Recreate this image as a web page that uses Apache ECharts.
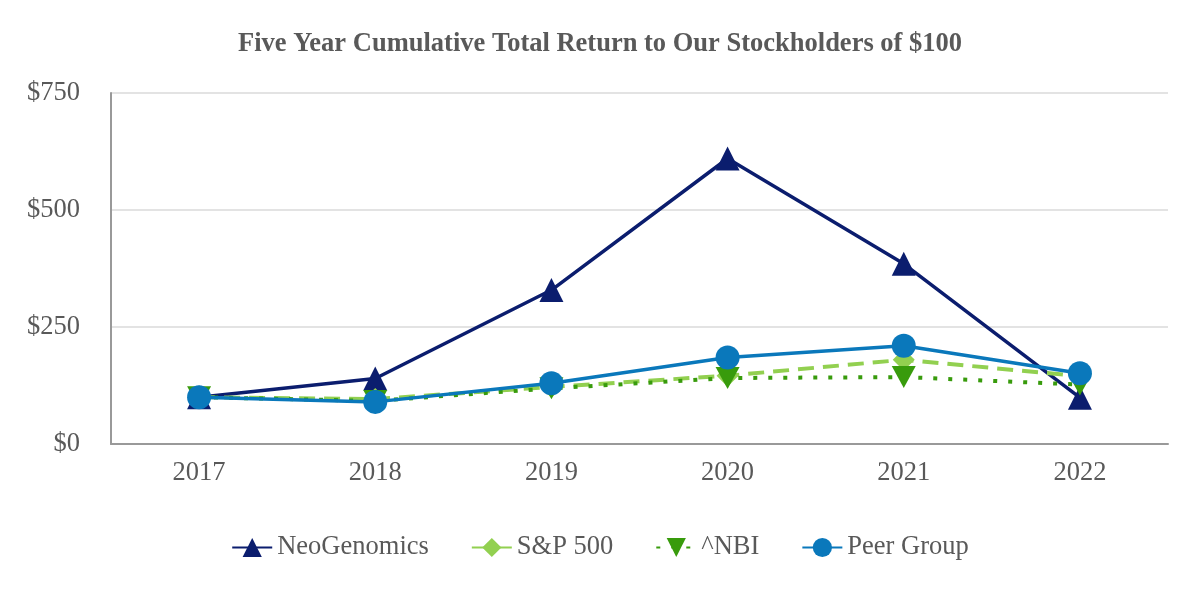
<!DOCTYPE html>
<html>
<head>
<meta charset="utf-8">
<script src="https://cdn.jsdelivr.net/npm/echarts@6/dist/echarts.min.js"></script>
<style>html,body{margin:0;padding:0;background:#fff;}#c{width:1200px;height:600px;}</style>
</head>
<body>
<div id="c"></div>
<script>
const years = ['2017', '2018', '2019', '2020', '2021', '2022'];
const neoGenomics = [100, 140, 329, 610, 385, 99];
const sp500 = [100, 96, 122, 146, 180, 145];
const nbi = [100, 92, 119, 141, 143, 127];
const peerGroup = [100, 90, 130, 185, 210, 151];
const yTicks = { min: 0, max: 750, interval: 250 };

const font = "'Liberation Serif', 'Times New Roman', serif";
const gray = '#595959';

const chart = echarts.init(document.getElementById('c'));
chart.setOption({
  backgroundColor: '#fff',
  animation: false,
  title: {
    text: 'Five Year Cumulative Total Return to Our Stockholders of $100',
    left: 'center', top: 26,
    textStyle: { fontFamily: font, fontSize: 26.5, fontWeight: 'bold', color: gray }
  },
  grid: { left: 111, right: 32, top: 93, bottom: 156 },
  legend: {
    bottom: 34, left: 'center', itemGap: 42, itemWidth: 40, itemHeight: 24,
    textStyle: { fontFamily: font, fontSize: 26.5, color: gray },
    data: ['NeoGenomics', 'S&P 500', '^NBI', 'Peer Group']
  },
  xAxis: {
    type: 'category', data: years, boundaryGap: true,
    axisLine: { lineStyle: { color: '#999', width: 2 } },
    axisTick: { alignWithLabel: true, length: 10, lineStyle: { color: '#999', width: 1 } },
    axisLabel: { fontFamily: font, fontSize: 26.5, color: gray, margin: 16 }
  },
  yAxis: {
    type: 'value', min: yTicks.min, max: yTicks.max, interval: yTicks.interval,
    axisLine: { show: true, lineStyle: { color: '#999', width: 2 } },
    axisTick: { show: false },
    splitLine: { lineStyle: { color: '#e3e3e3', width: 2 } },
    axisLabel: { fontFamily: font, fontSize: 26.5, color: gray, margin: 31, formatter: v => '$' + v }
  },
  series: [
    { name: 'NeoGenomics', type: 'line', data: neoGenomics, color: '#0b1d6e',
      symbol: 'triangle', symbolSize: 24, lineStyle: { width: 3.5 } },
    { name: 'S&P 500', type: 'line', data: sp500, color: '#92d050',
      symbol: 'diamond', symbolSize: 22, lineStyle: { width: 4, type: [16, 9] } },
    { name: '^NBI', type: 'line', data: nbi, color: '#389b0c',
      symbol: 'path://M0,0 L10,0 L5,9 Z', symbolSize: [24, 22], lineStyle: { width: 4, type: [4, 11] } },
    { name: 'Peer Group', type: 'line', data: peerGroup, color: '#0a78bb',
      symbol: 'circle', symbolSize: 24, lineStyle: { width: 3.5 } }
  ]
});
</script>
</body>
</html>
